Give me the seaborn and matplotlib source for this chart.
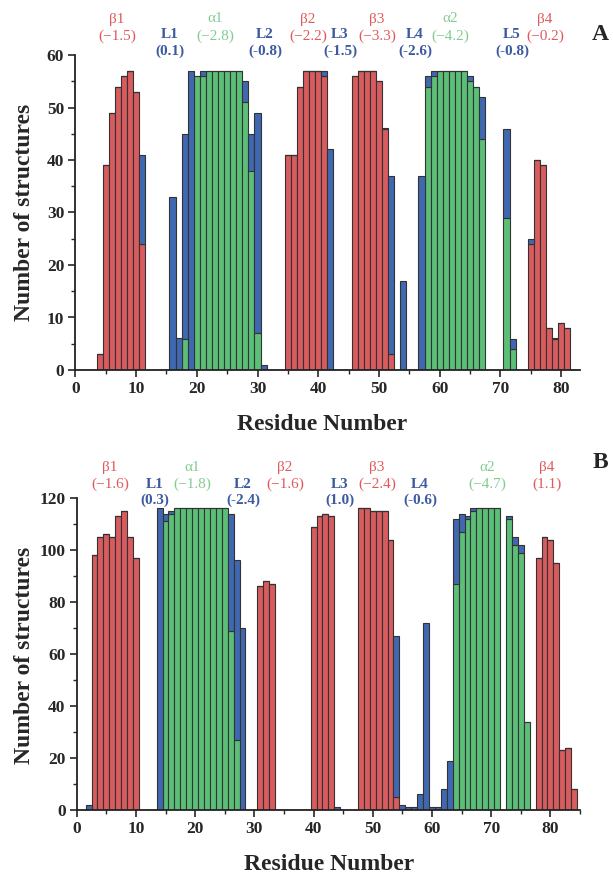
import pandas as pd
import matplotlib
matplotlib.use('Agg')
import matplotlib.pyplot as plt
from matplotlib.ticker import MultipleLocator
import seaborn as sns

# Panel A: residues 1-82, number of structures per secondary structure type
res_a = list(range(1, 83))
strand_a = [0, 0, 0, 3, 39, 49, 54, 56, 57, 53,
            24, 0, 0, 0, 0, 0, 0, 0, 0, 0,
            0, 0, 0, 0, 0, 0, 0, 0, 0, 0,
            0, 0, 0, 0, 41, 41, 54, 57, 57, 57,
            56, 0, 0, 0, 0, 56, 57, 57, 57, 55,
            46, 3, 0, 0, 0, 0, 0, 0, 0, 0,
            0, 0, 0, 0, 0, 0, 0, 0, 0, 0,
            0, 0, 0, 0, 24, 40, 39, 8, 6, 9,
            8, 0]
helix_a = [0, 0, 0, 0, 0, 0, 0, 0, 0, 0,
           0, 0, 0, 0, 0, 0, 0, 6, 0, 56,
           56, 57, 57, 57, 57, 57, 57, 51, 38, 7,
           0, 0, 0, 0, 0, 0, 0, 0, 0, 0,
           0, 0, 0, 0, 0, 0, 0, 0, 0, 0,
           0, 0, 0, 0, 0, 0, 0, 54, 56, 57,
           57, 57, 57, 57, 55, 54, 44, 0, 0, 0,
           29, 4, 0, 0, 0, 0, 0, 0, 0, 0,
           0, 0]
loop_a = [0, 0, 0, 0, 0, 0, 0, 0, 0, 0,
          17, 0, 0, 0, 0, 33, 6, 39, 57, 0,
          1, 0, 0, 0, 0, 0, 0, 4, 7, 42,
          1, 0, 0, 0, 0, 0, 0, 0, 0, 0,
          1, 42, 0, 0, 0, 0, 0, 0, 0, 0,
          0, 34, 0, 17, 0, 0, 37, 2, 1, 0,
          0, 0, 0, 0, 1, 0, 8, 0, 0, 0,
          17, 2, 0, 0, 1, 0, 0, 0, 0, 0,
          0, 0]

# Panel B: residues 1-84
res_b = list(range(1, 85))
strand_b = [0, 0, 98, 105, 106, 105, 113, 115, 105, 97,
            0, 0, 0, 0, 0, 0, 0, 0, 0, 0,
            0, 0, 0, 0, 0, 0, 0, 0, 0, 0,
            86, 88, 87, 0, 0, 0, 0, 0, 0, 109,
            113, 114, 113, 0, 0, 0, 0, 116, 116, 115,
            115, 115, 104, 5, 0, 0, 0, 0, 0, 0,
            0, 0, 0, 0, 0, 0, 0, 0, 0, 0,
            0, 0, 0, 0, 0, 0, 0, 97, 105, 104,
            95, 23, 24, 8]
helix_b = [0, 0, 0, 0, 0, 0, 0, 0, 0, 0,
           0, 0, 0, 0, 111, 114, 116, 116, 116, 116,
           116, 116, 116, 116, 116, 69, 27, 0, 0, 0,
           0, 0, 0, 0, 0, 0, 0, 0, 0, 0,
           0, 0, 0, 0, 0, 0, 0, 0, 0, 0,
           0, 0, 0, 0, 0, 0, 0, 0, 0, 0,
           0, 0, 0, 87, 107, 112, 115, 116, 116, 116,
           116, 0, 112, 102, 99, 34, 0, 0, 0, 0,
           0, 0, 0, 0]
loop_b = [0, 2, 0, 0, 0, 0, 0, 0, 0, 0,
          0, 0, 0, 116, 3, 1, 0, 0, 0, 0,
          0, 0, 0, 0, 0, 45, 69, 70, 0, 0,
          0, 0, 0, 0, 0, 0, 0, 0, 0, 0,
          0, 0, 0, 1, 0, 0, 0, 0, 0, 0,
          0, 0, 0, 62, 2, 1, 1, 6, 72, 1,
          1, 8, 19, 25, 7, 1, 1, 0, 0, 0,
          0, 0, 1, 3, 3, 0, 0, 0, 0, 0,
          0, 0, 0, 0]

# segment labels: (name, value, kind)
labels_a = [('β1', '(−1.5)', 'strand'), ('L1', '(0.1)', 'loop'),
            ('α1', '(−2.8)', 'helix'), ('L2', '(-0.8)', 'loop'),
            ('β2', '(−2.2)', 'strand'), ('L3', '(-1.5)', 'loop'),
            ('β3', '(−3.3)', 'strand'), ('L4', '(-2.6)', 'loop'),
            ('α2', '(−4.2)', 'helix'), ('L5', '(-0.8)', 'loop'),
            ('β4', '(−0.2)', 'strand')]
labels_b = [('β1', '(−1.6)', 'strand'), ('L1', '(0.3)', 'loop'),
            ('α1', '(−1.8)', 'helix'), ('L2', '(-2.4)', 'loop'),
            ('β2', '(−1.6)', 'strand'), ('L3', '(1.0)', 'loop'),
            ('β3', '(−2.4)', 'strand'), ('L4', '(-0.6)', 'loop'),
            ('α2', '(−4.7)', 'helix'), ('β4', '(1.1)', 'strand')]

W, H = 613, 875
bar_colors = {'loop': '#3f68b0', 'helix': '#5cbf78', 'strand': '#d85b5e'}
text_colors = {'loop': '#3c5aa0', 'helix': '#82cc92', 'strand': '#e05a5c'}

sns.set_style('ticks')
plt.rcParams['font.family'] = ['Liberation Serif', 'DejaVu Serif']


def long_table(res, strand, helix, loop):
    frames = []
    for name, vals in [('loop', loop), ('helix', helix), ('strand', strand)]:
        frames.append(pd.DataFrame({'residue': res, 'count': vals, 'ss': name}))
    return pd.concat(frames, ignore_index=True)


def draw_panel(ax, df, xmax, ymax, ymaj, ymin):
    sns.histplot(data=df, x='residue', weights='count', hue='ss',
                 hue_order=['loop', 'helix', 'strand'], multiple='stack',
                 discrete=True, palette=bar_colors, alpha=1,
                 edgecolor='#333333', linewidth=0.8, legend=False, ax=ax)
    ax.set_xlim(0, xmax)
    ax.set_ylim(0, ymax)
    ax.xaxis.set_major_locator(MultipleLocator(10))
    ax.xaxis.set_minor_locator(MultipleLocator(5))
    ax.yaxis.set_major_locator(MultipleLocator(ymaj))
    ax.yaxis.set_minor_locator(MultipleLocator(ymin))
    ax.tick_params(which='major', length=5, width=1.2, labelsize=12.5, pad=3)
    ax.tick_params(which='minor', length=3, width=1.0)
    for lab in ax.get_xticklabels() + ax.get_yticklabels():
        lab.set_fontweight('bold')
    ax.set_xlabel('')
    ax.set_ylabel('')
    for s in ['left', 'bottom']:
        ax.spines[s].set_linewidth(1.3)
        ax.spines[s].set_color('#222222')
    sns.despine(ax=ax)


def put(fig, x, y, s, **kw):
    fig.text(x / W, 1 - y / H, s, ha='center', va='center', **kw)


fig = plt.figure(figsize=(W / 100, H / 100), dpi=100)

ax_a = fig.add_axes([75.3 / W, 1 - 370 / H, 504.7 / W, 315 / H])
draw_panel(ax_a, long_table(res_a, strand_a, helix_a, loop_a), 83.1, 60, 10, 5)

ax_b = fig.add_axes([76.7 / W, 1 - 810 / H, 503.3 / W, 312 / H])
draw_panel(ax_b, long_table(res_b, strand_b, helix_b, loop_b), 85, 120, 20, 10)

# axis titles
for yc in (212, 655):
    put(fig, 25, yc, 'Number of structures', fontsize=17, fontweight='bold',
        rotation=90)
put(fig, 322, 424, 'Residue Number', fontsize=17, fontweight='bold')
put(fig, 329, 864, 'Residue Number', fontsize=17, fontweight='bold')

# segment annotations (x centre, y of first line)
xs_a = [117, 170, 215, 265, 308, 340, 377, 415, 450, 512, 545]
for (name, val, kind), x in zip(labels_a, xs_a):
    y0 = 34 if kind == 'loop' else 19
    wt = 'bold' if kind == 'loop' else 'normal'
    put(fig, x, y0, name, fontsize=11, color=text_colors[kind], fontweight=wt)
    put(fig, x, y0 + 17, val, fontsize=11, color=text_colors[kind], fontweight=wt)

xs_b = [110, 155, 192, 243, 285, 340, 377, 420, 487, 547]
for (name, val, kind), x in zip(labels_b, xs_b):
    y0 = 484 if kind == 'loop' else 468
    wt = 'bold' if kind == 'loop' else 'normal'
    put(fig, x, y0, name, fontsize=11, color=text_colors[kind], fontweight=wt)
    put(fig, x, y0 + 16, val, fontsize=11, color=text_colors[kind], fontweight=wt)

put(fig, 600, 35, 'A', fontsize=17, fontweight='bold')
put(fig, 600, 463, 'B', fontsize=17, fontweight='bold')

fig.savefig('out.png', dpi=100)
